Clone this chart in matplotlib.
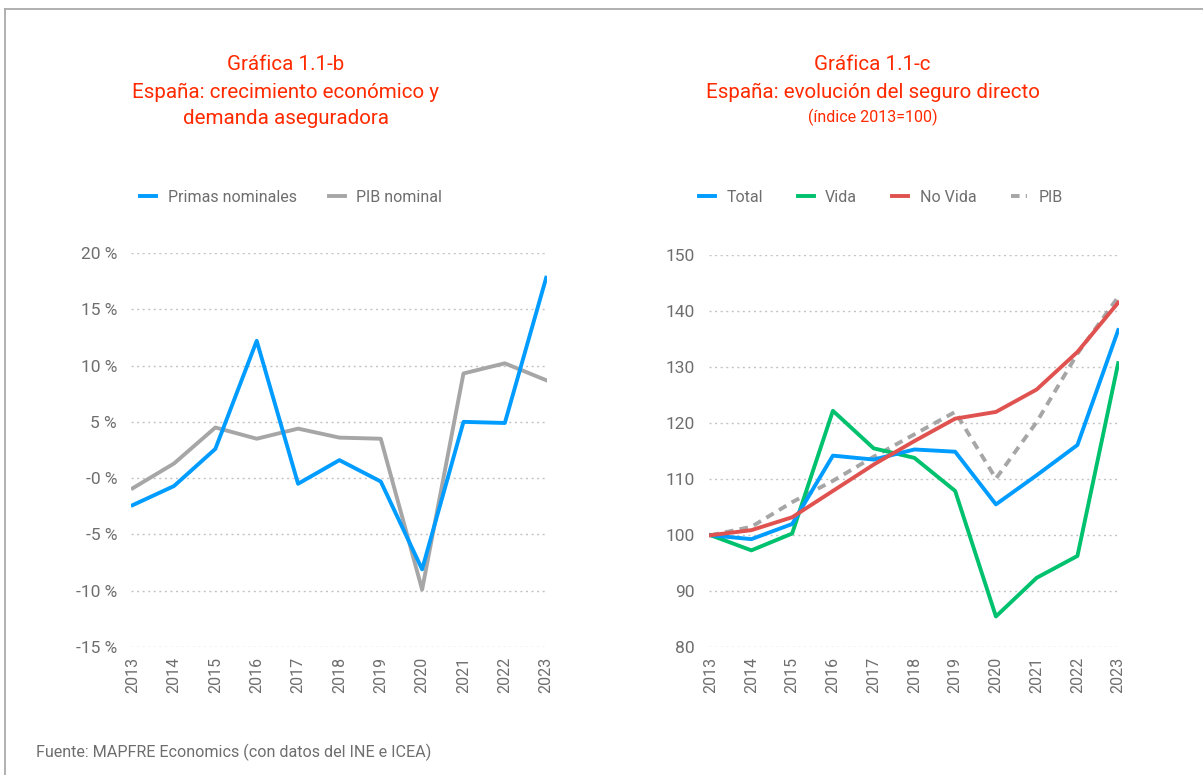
import matplotlib

matplotlib.use("Agg")
import matplotlib.pyplot as plt
from matplotlib.lines import Line2D

plt.rcParams["font.family"] = ["Roboto", "DejaVu Sans"]

# ---------------------------------------------------------------------------
# Data
# ---------------------------------------------------------------------------
years = list(range(2013, 2024))

# Gráfica 1.1-b (crecimiento %, nominal)
primas_nominales = [-2.4, -0.7, 2.6, 12.2, -0.5, 1.6, -0.3, -8.1, 5.0, 4.9, 17.8]
pib_nominal = [-0.9, 1.3, 4.5, 3.5, 4.4, 3.6, 3.5, -9.9, 9.3, 10.2, 8.7]
pct_ticks = [20, 15, 10, 5, 0, -5, -10, -15]
pct_labels = ["20 %", "15 %", "10 %", "5 %", "-0 %", "-5 %", "-10 %", "-15 %"]

# Gráfica 1.1-c (índice 2013=100)
total = [100, 99.3, 102.0, 114.2, 113.5, 115.3, 114.9, 105.5, 110.7, 116.1, 136.6]
vida = [100, 97.3, 100.3, 122.2, 115.5, 113.8, 107.9, 85.5, 92.4, 96.3, 130.7]
no_vida = [100, 100.9, 103.2, 107.9, 112.6, 116.8, 120.8, 122.0, 126.0, 132.7, 141.5]
pib_idx = [100, 101.5, 105.9, 109.7, 114.0, 118.0, 122.0, 110.1, 120.2, 132.4, 142.5]
idx_ticks = [80, 90, 100, 110, 120, 130, 140, 150]

BLUE = "#009CFF"
GRAY = "#A6A6A6"
GREEN = "#00C16E"
RED = "#E0524F"
TITLE_RED = "#FF2A00"
TXT = "#6E6E6E"
GRID = "#C4C4C4"

W, H = 1203, 775
fig = plt.figure(figsize=(W / 100, H / 100), dpi=100)

# frame (top and left edges visible)
fig.add_artist(Line2D([5 / W, 5 / W], [0, 1 - 9 / H], color="#AAAAAA", lw=1.3))
fig.add_artist(Line2D([5 / W, 1], [1 - 9 / H, 1 - 9 / H], color="#AAAAAA", lw=1.3))


def style_axis(ax, ticks, labels, ylim):
    ax.set_xlim(2012.96, 2023.02)
    ax.set_ylim(*ylim)
    ax.set_yticks(ticks)
    ax.set_yticklabels(labels)
    ax.set_xticks(years)
    ax.set_xticklabels([str(y) for y in years], rotation=90)
    ax.grid(axis="y", color=GRID, linestyle=(0, (1.5, 2.5)), lw=1.0)
    ax.set_axisbelow(True)
    for s in ax.spines.values():
        s.set_visible(False)
    ax.tick_params(length=0, colors=TXT)
    ax.tick_params(axis="y", labelsize=12.5, pad=10)
    ax.tick_params(axis="x", labelsize=11.5, pad=7)


# --- left chart ---
ax1 = fig.add_axes([131 / W, 1 - 647 / H, 416 / W, 394 / H])
ax1.plot(years, primas_nominales, color=BLUE, lw=2.8, label="Primas nominales", zorder=3)
ax1.plot(years, pib_nominal, color=GRAY, lw=2.8, label="PIB nominal", zorder=2)
style_axis(ax1, pct_ticks, pct_labels, (-15, 20))
h1, l1 = ax1.get_legend_handles_labels()
fig.legend(
    h1, l1, loc="center", bbox_to_anchor=(291 / W, 1 - 197 / H),
    ncol=2, frameon=False, fontsize=11.5, handlelength=1.0, handletextpad=0.7,
    columnspacing=2.0, labelcolor=TXT,
)

TITLE_FS = 14.8
TITLE_KW = dict(ha="center", va="center", color=TITLE_RED)
fig.text(286 / W, 1 - 65 / H, "Gráfica 1.1-b", fontsize=TITLE_FS, **TITLE_KW)
fig.text(286 / W, 1 - 92 / H, "España: crecimiento económico y", fontsize=TITLE_FS, **TITLE_KW)
fig.text(286 / W, 1 - 118 / H, "demanda aseguradora", fontsize=TITLE_FS, **TITLE_KW)

# --- right chart ---
ax2 = fig.add_axes([709 / W, 1 - 647.3 / H, 410 / W, 392.3 / H])
ax2.plot(years, total, color=BLUE, lw=2.8, label="Total", zorder=4)
ax2.plot(years, vida, color=GREEN, lw=2.8, label="Vida", zorder=3)
ax2.plot(years, no_vida, color=RED, lw=2.8, label="No Vida", zorder=5)
ax2.plot(years, pib_idx, color=GRAY, lw=2.8, ls=(0, (2.2, 1.6)), label="PIB", zorder=2)
style_axis(ax2, idx_ticks, [str(t) for t in idx_ticks], (80, 150))
h2, l2 = ax2.get_legend_handles_labels()
fig.legend(
    h2, l2, loc="center", bbox_to_anchor=(881 / W, 1 - 197 / H),
    ncol=4, frameon=False, fontsize=11.5, handlelength=1.0, handletextpad=0.7,
    columnspacing=2.2, labelcolor=TXT,
)

fig.text(872.5 / W, 1 - 65 / H, "Gráfica 1.1-c", fontsize=TITLE_FS, **TITLE_KW)
fig.text(872.5 / W, 1 - 92 / H, "España: evolución del seguro directo", fontsize=TITLE_FS, **TITLE_KW)
fig.text(872.5 / W, 1 - 117 / H, "(índice 2013=100)", fontsize=11.5, **TITLE_KW)

fig.text(36 / W, 1 - 752 / H, "Fuente: MAPFRE Economics (con datos del INE e ICEA)",
         ha="left", va="center", fontsize=11.6, color=TXT)

fig.savefig("out.png", dpi=100)
